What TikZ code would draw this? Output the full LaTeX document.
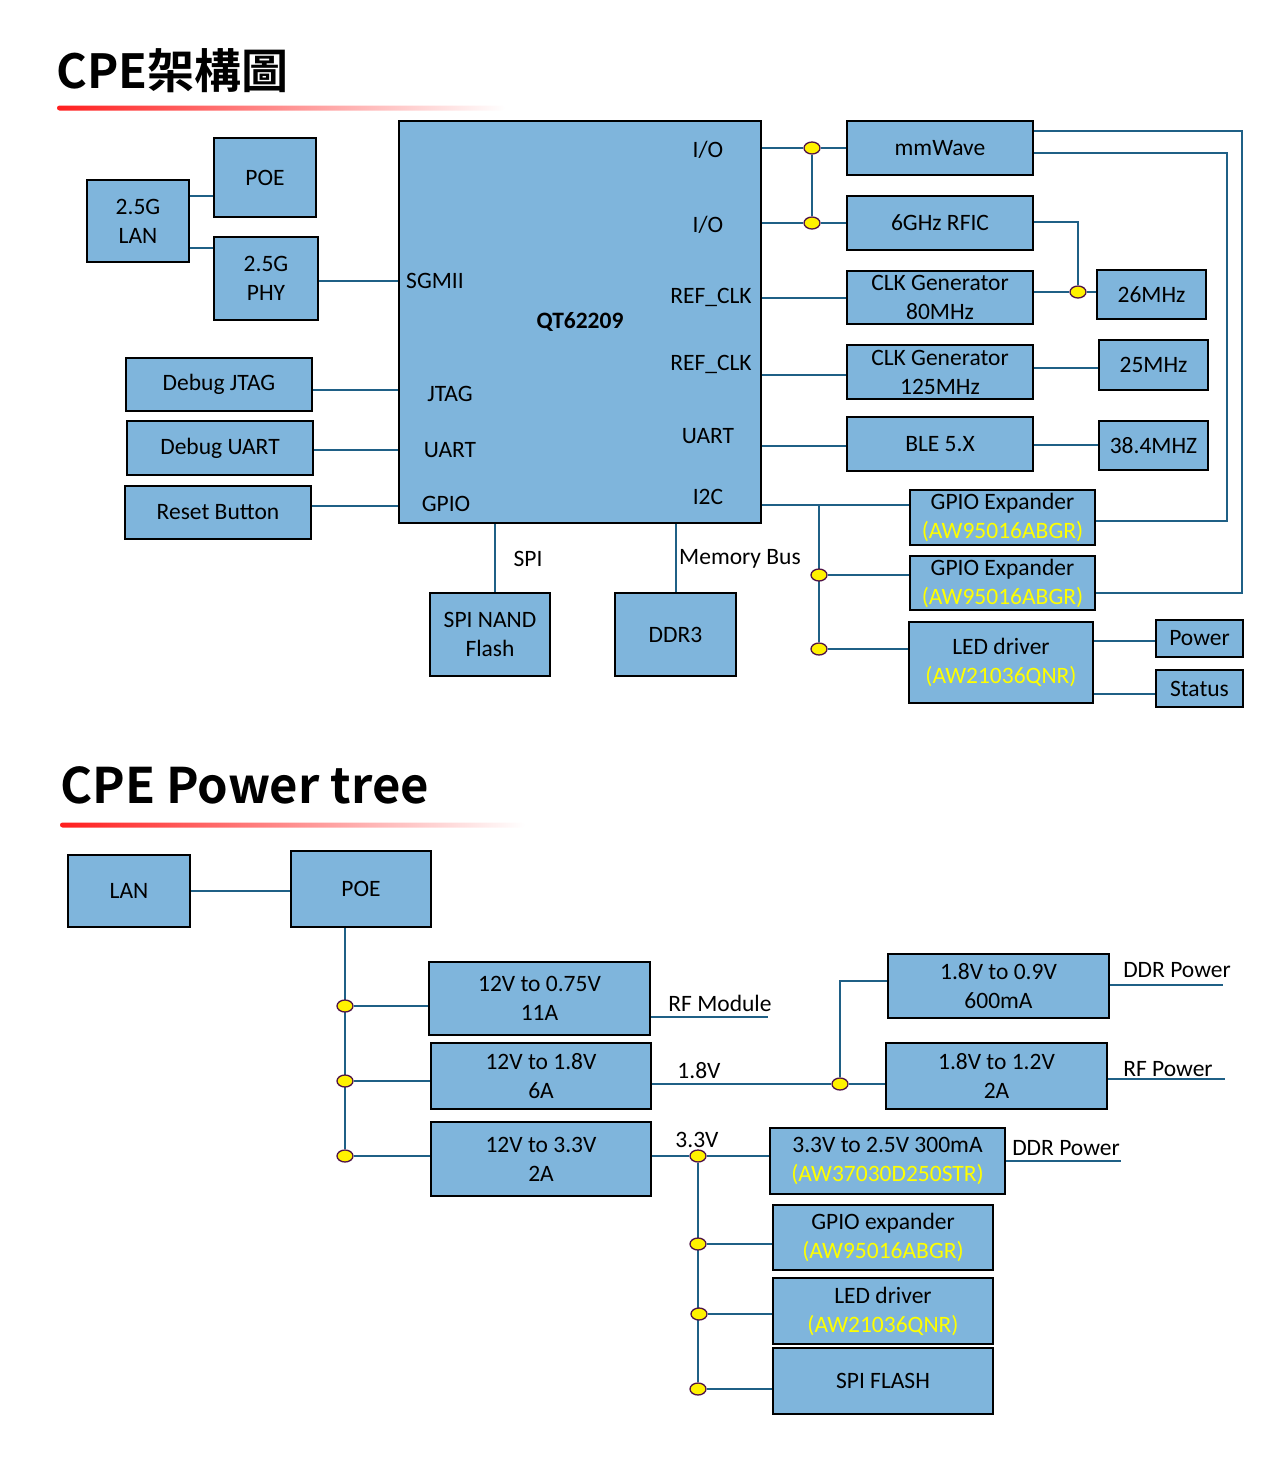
\documentclass[tikz,border=0pt]{standalone}
\usepackage{fontspec}
\setmainfont{Carlito}
\newfontfamily\titlefont{Noto Sans CJK TC}[BoldFont={Noto Sans CJK TC Bold}]
\usetikzlibrary{shapes.geometric,backgrounds}
\definecolor{boxblue}{RGB}{127,181,220}
\definecolor{wireblue}{RGB}{31,96,134}
\definecolor{partyellow}{RGB}{255,255,0}
\definecolor{dotrim}{RGB}{80,20,70}
\definecolor{barred}{RGB}{255,30,30}
\newcommand{\partno}[1]{\textcolor{partyellow}{#1}}
\begin{document}
\begin{tikzpicture}
    [ x=1pt, y=-1pt
    , every node/.style={font=\fontsize{23.5}{29}\selectfont, inner sep=0pt}
    , blk/.style 2 args={draw=black, line width=1.3pt, fill=boxblue, align=center,
        minimum width=#1, minimum height=#2}
    , wire/.style={draw=wireblue, line width=2.6pt}
    , dot/.style={ellipse, draw=dotrim, line width=1.3pt, fill=yellow,
        minimum width=16pt, minimum height=12pt}
    , ttl/.style={font=\titlefont\bfseries\fontsize{49}{55}\selectfont, anchor=base west}
    ]
\path[use as bounding box] (0,0) rectangle (1280,1484);

% titles
\node[ttl, font=\titlefont\bfseries\fontsize{47}{55}\selectfont] (title1) at (56,88) {CPE架構圖};
\shade[left color=barred, right color=white, rounded corners=2.5pt] (57,105.5) rectangle (505,110.5);
\node[ttl] (title2) at (60,803) {CPE Power tree};
\shade[left color=barred, right color=white, rounded corners=2.5pt] (60,822.5) rectangle (525,827.5);

% ---- architecture ----
\node[blk={102}{79}] (poe) at (265,177.5) {POE};
\node[blk={102}{82}] (lan) at (138,221) {2.5G\\LAN};
\node[blk={104}{83}] (phy) at (266,278.5) {2.5G\\PHY};
\node[blk={362}{402}, font=\fontsize{23.5}{29}\selectfont\bfseries] (qt) at (580,322) {QT62209};
\node[blk={186}{53}] (djtag) at (219,384.5) {Debug JTAG};
\node[blk={186}{54}] (duart) at (220,448) {Debug UART};
\node[blk={186}{53}] (reset) at (218,512.5) {Reset Button};
\node[blk={120}{83}] (nand) at (490,634.5) {SPI NAND\\Flash};
\node[blk={121}{83}] (ddr) at (675.5,634.5) {DDR3};

\node[blk={186}{54}] (mmw) at (940,148) {mmWave};
\node[blk={186}{54}] (rfic) at (940,223) {6GHz RFIC};
\node[blk={186}{53}] (clka) at (940,297.5) {CLK Generator\\80MHz};
\node[blk={186}{54}] (clkb) at (940,372) {CLK Generator\\125MHz};
\node[blk={186}{54}] (ble) at (940,444) {BLE 5.X};
\node[blk={109}{49}] (xa) at (1151.5,294.5) {26MHz};
\node[blk={109}{50}] (xb) at (1153.5,365) {25MHz};
\node[blk={109}{49}] (xc) at (1153.5,445.5) {38.4MHZ};
\node[blk={185}{55}] (gexa) at (1002.5,517.5) {GPIO Expander\\\partno{(AW95016ABGR)}};
\node[blk={185}{54}] (gexb) at (1002.5,583) {GPIO Expander\\\partno{(AW95016ABGR)}};
\node[blk={184}{81}] (led) at (1001,662.5) {LED driver\\\partno{(AW21036QNR)}};
\node[blk={87}{37}] (pwr) at (1199.5,638.5) {Power};
\node[blk={87}{37}] (stat) at (1199.5,688.5) {Status};

% port labels
\node (ioa) at (708,150) {I/O};
\node (iob) at (708,225) {I/O};
\node (refa) at (711,297) {REF\_CLK};
\node (refb) at (711,364) {REF\_CLK};
\node (uartr) at (708,436) {UART};
\node (i2c) at (708,497) {I2C};
\node (sgmii) at (435,281) {SGMII};
\node (jtagl) at (450,394) {JTAG};
\node (uartl) at (450,450) {UART};
\node (gpiol) at (446,504) {GPIO};
\node (spi) at (528,559) {SPI};
\node (membus) at (740,559) {Memory Bus};

\node[dot] (da) at (812,148) {};
\node[dot] (db) at (812,223) {};
\node[dot] (dc) at (1078,292) {};
\node[dot] (dd) at (819,575) {};
\node[dot] (de) at (819,649) {};

\begin{pgfonlayer}{background}
\draw[wire] (lan.east |- 0,196) -- (poe.west |- 0,196);
\draw[wire] (lan.east |- 0,248) -- (phy.west |- 0,248);
\draw[wire] (phy.east |- 0,281) -- (qt.west |- 0,281);
\draw[wire] (djtag.east |- 0,390) -- (qt.west |- 0,390);
\draw[wire] (duart.east |- 0,450) -- (qt.west |- 0,450);
\draw[wire] (reset.east |- 0,506) -- (qt.west |- 0,506);
\draw[wire] (qt.south -| 495,0) -- (nand.north -| 495,0);
\draw[wire] (qt.south -| 676,0) -- (ddr.north -| 676,0);
\draw[wire] (qt.east |- da) -- (da) -- (mmw.west |- da);
\draw[wire] (qt.east |- db) -- (db) -- (rfic.west |- db);
\draw[wire] (da) -- (db);
\draw[wire] (rfic.east |- 0,222) -| (dc);
\draw[wire] (clka.east |- dc) -- (dc) -- (xa.west |- dc);
\draw[wire] (qt.east |- 0,298) -- (clka.west |- 0,298);
\draw[wire] (qt.east |- 0,375) -- (clkb.west |- 0,375);
\draw[wire] (clkb.east |- 0,368) -- (xb.west |- 0,368);
\draw[wire] (qt.east |- 0,446) -- (ble.west |- 0,446);
\draw[wire] (ble.east |- 0,445) -- (xc.west |- 0,445);
\draw[wire] (qt.east |- 0,505) -- (gexa.west |- 0,505);
\draw[wire] (de |- 0,505) -- (de);
\draw[wire] (dd) -- (gexb.west |- dd);
\draw[wire] (de) -- (led.west |- de);
\draw[wire] (led.east |- 0,641) -- (pwr.west |- 0,641);
\draw[wire] (led.east |- 0,694) -- (stat.west |- 0,694);
\draw[wire] (mmw.east |- 0,131) -- (1242,131) -- (1242,593) -- (gexb.east |- 0,593);
\draw[wire] (mmw.east |- 0,153) -- (1227,153) -- (1227,521) -- (gexa.east |- 0,521);
\end{pgfonlayer}

% ---- power tree ----
\node[blk={122}{72}] (plan) at (129,891) {LAN};
\node[blk={140}{76}] (ppoe) at (361,889) {POE};
\node[blk={221}{73}] (vrf) at (539.5,998.5) {12V to 0.75V\\11A};
\node[blk={220}{66}] (vea) at (541,1076) {12V to 1.8V\\6A};
\node[blk={220}{74}] (vtt) at (541,1159) {12V to 3.3V\\2A};
\node[blk={221}{64}] (vnine) at (998.5,986) {1.8V to 0.9V\\600mA};
\node[blk={221}{66}] (vtwelve) at (996.5,1076) {1.8V to 1.2V\\2A};
\node[blk={235}{66}] (vtwofive) at (887.5,1161) {3.3V to 2.5V 300mA\\\partno{(AW37030D250STR)}};
\node[blk={220}{65}] (pgex) at (883,1237.5) {GPIO expander\\\partno{(AW95016ABGR)}};
\node[blk={220}{66}] (pled) at (883,1311) {LED driver\\\partno{(AW21036QNR)}};
\node[blk={220}{66}] (pflash) at (883,1381) {SPI FLASH};

\node (rfmod) at (720,1003) {RF Module};
\node (volta) at (699,1071) {1.8V};
\node (voltb) at (697,1140) {3.3V};
\node (ddrpa) at (1177,970) {DDR Power};
\node (rfpwr) at (1168,1069) {RF Power};
\node (ddrpb) at (1066,1148) {DDR Power};

\coordinate (rfend) at (768,1017);
\coordinate (ddraend) at (1223,985);
\coordinate (rfpend) at (1225,1079);
\coordinate (ddrbend) at (1121,1161);

\node[dot] (ea) at (345,1006) {};
\node[dot] (eb) at (345,1081) {};
\node[dot] (ec) at (345,1156) {};
\node[dot] (fa) at (840,1084) {};
\node[dot] (ga) at (698,1156) {};
\node[dot] (gb) at (698,1244) {};
\node[dot] (gc) at (699,1314) {};
\node[dot] (gd) at (698,1389) {};

\begin{pgfonlayer}{background}
\draw[wire] (plan.east |- 0,891) -- (ppoe.west |- 0,891);
\draw[wire] (ppoe.south -| ea) -- (ec);
\draw[wire] (ea) -- (vrf.west |- ea);
\draw[wire] (eb) -- (vea.west |- eb);
\draw[wire] (ec) -- (vtt.west |- ec);
\draw[wire] (vrf.east |- rfend) -- (rfend);
\draw[wire] (vea.east |- fa) -- (fa) -- (vtwelve.west |- fa);
\draw[wire] (fa) |- (vnine.west |- 0,981);
\draw[wire] (vnine.east |- ddraend) -- (ddraend);
\draw[wire] (vtwelve.east |- rfpend) -- (rfpend);
\draw[wire] (vtt.east |- ga) -- (ga) -- (vtwofive.west |- ga);
\draw[wire] (vtwofive.east |- ddrbend) -- (ddrbend);
\draw[wire] (ga) -- (gd);
\draw[wire] (gb) -- (pgex.west |- gb);
\draw[wire] (gc) -- (pled.west |- gc);
\draw[wire] (gd) -- (pflash.west |- gd);
\end{pgfonlayer}
\end{tikzpicture}
\end{document}
